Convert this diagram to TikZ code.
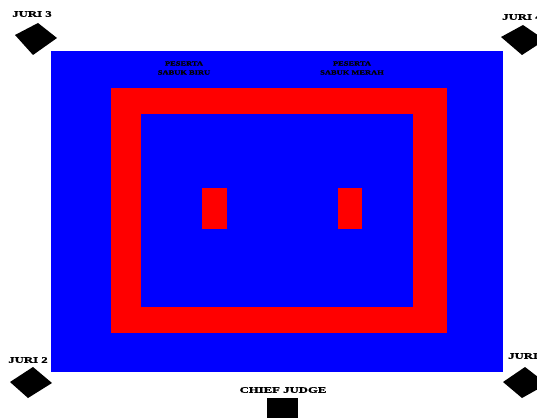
\documentclass[tikz,border=0pt]{standalone}
\usepackage{fontspec}
\newfontfamily\lblfont[FakeStretch=1.5,FakeBold=1.5]{Liberation Serif}
\newfontfamily\pesfont[FakeStretch=1.3,FakeBold=1.5]{Liberation Serif}
\definecolor{ringblue}{RGB}{0,0,255}
\definecolor{ringred}{RGB}{255,0,0}
\tikzset{
  juri/.style={inner sep=0pt, font=\lblfont\bfseries\fontsize{8.5}{9}\selectfont},
  peserta/.style={inner sep=0pt, align=center, font=\pesfont\bfseries\fontsize{6.5}{9}\selectfont},
  seat/.style={fill=black, draw=none}
}
\begin{document}
\begin{tikzpicture}[x=1pt,y=-1pt]
\useasboundingbox (0,0) rectangle (537,417);
\fill[white] (0,0) rectangle (537,417);
% arena
\fill[ringblue] (51,51) rectangle (503,372);
\fill[ringred] (111,88) rectangle (447,333);
\fill[ringblue] (141,114) rectangle (413,307);
\fill[ringred] (202,188) rectangle (227,229);
\fill[ringred] (338,188) rectangle (362,229);
% judges
\fill[seat] (38,23) -- (57,38) -- (33,55) -- (15,35) -- cycle;
\fill[seat] (523,25) -- (545,40) -- (522,55) -- (501,37) -- cycle;
\fill[seat] (33,367) -- (52,383) -- (28,398) -- (10,382) -- cycle;
\fill[seat] (525,367) -- (547,384) -- (522,398) -- (503,382) -- cycle;
\fill[seat] (267,398) rectangle (298,420);
% labels
\node[juri] (j3) at (32,14) {JURI 3};
\node[juri, anchor=west] (j4) at (502,17) {JURI 4};
\node[juri] (j2) at (28,360) {JURI 2};
\node[juri, anchor=west] (j1) at (508,356) {JURI 1};
\node[juri] (cj) at (283,390) {CHIEF JUDGE};
\node[peserta] (pb) at (184,68) {PESERTA\\SABUK BIRU};
\node[peserta] (pm) at (352,68) {PESERTA\\SABUK MERAH};
\end{tikzpicture}
\end{document}
